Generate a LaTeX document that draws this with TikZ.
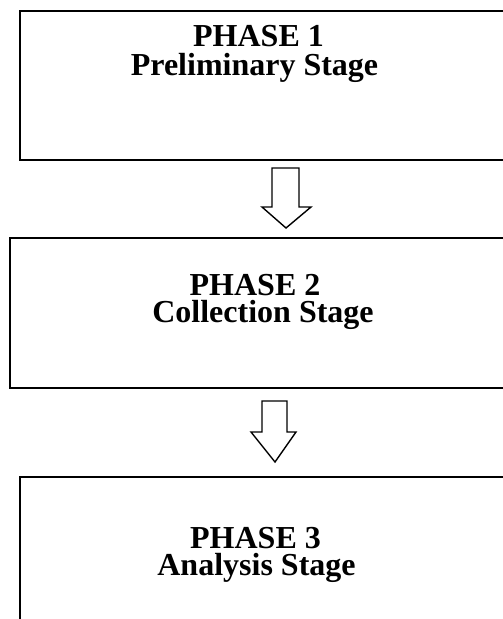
\documentclass[tikz,border=0pt]{standalone}
\usepackage{fontspec}
\newfontfamily\tnr{Liberation Serif}
\begin{document}
\begin{tikzpicture}[x=1pt,y=-1pt,
  stagebox/.style={draw=black,line width=1.8pt,rectangle,inner sep=0pt},
  label/.style={anchor=base,inner sep=0pt,font=\tnr\bfseries\fontsize{32}{32}\selectfont},
  blockarrow/.style={draw=black,line width=1.4pt,fill=white,line join=miter}]
\useasboundingbox (0,0) rectangle (503,619);
% boxes (right side runs off the page)
\node[stagebox,minimum width=500pt,minimum height=149pt] (b1) at (270,85.5) {};
\node[stagebox,minimum width=510pt,minimum height=150pt] (b2) at (265,313) {};
\node[stagebox,minimum width=500pt,minimum height=180pt] (b3) at (270,567) {};
% texts
\node[label] (t1a) at (258.5,46.5) {PHASE 1};
\node[label] (t1b) at (254.5,75) {Preliminary Stage};
\node[label] (t2a) at (255,295) {PHASE 2};
\node[label] (t2b) at (263,322) {Collection Stage};
\node[label] (t3a) at (255.5,548) {PHASE 3};
\node[label] (t3b) at (256.5,575) {Analysis Stage};
% block arrows
\draw[blockarrow] (272,168) -- (299,168) -- (299,207) -- (311,207) -- (286,228)
  -- (262,207) -- (272,207) -- cycle;
\draw[blockarrow] (262,401) -- (287,401) -- (287,432) -- (296,432) -- (275,462)
  -- (251,432) -- (262,432) -- cycle;
\end{tikzpicture}
\end{document}
